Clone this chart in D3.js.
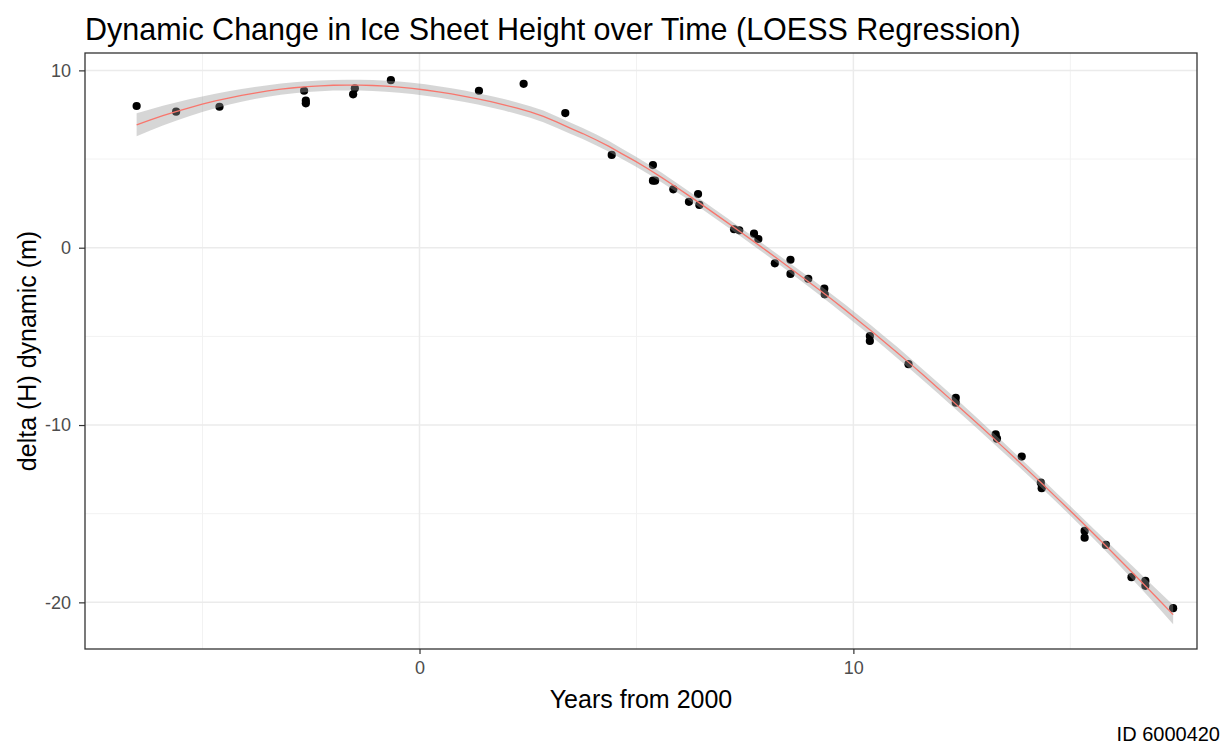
<!DOCTYPE html>
<html>
<head>
<meta charset="utf-8">
<script src="https://cdn.jsdelivr.net/npm/d3@7"></script>
<style>
  body { margin: 0; background: #fff; }
  svg { display: block; font-family: "Liberation Sans", Arial, sans-serif; }
</style>
</head>
<body>
<div id="chart"></div>
<script>
// values
const years = [-6.52, -5.61, -4.61, -2.66, -2.62, -2.62, -1.53, -1.49, -0.66, 1.37,
  2.40, 3.36, 4.43, 5.38, 5.38, 5.43, 5.85, 6.21, 6.42, 6.45,
  7.25, 7.37, 7.71, 7.81, 8.19, 8.55, 8.55, 8.96, 9.33, 9.34,
  10.38, 10.38, 11.27, 12.36, 12.36, 13.28, 13.31, 13.88, 14.32, 14.34,
  15.33, 15.33, 15.82, 16.41, 16.73, 16.73, 17.37];
const heights = [7.99, 7.67, 7.95, 8.85, 8.29, 8.14, 8.65, 8.99, 9.45, 8.85,
  9.24, 7.59, 5.23, 4.66, 3.78, 3.78, 3.29, 2.59, 3.03, 2.41,
  1.04, 0.98, 0.79, 0.49, -0.88, -0.68, -1.48, -1.75, -2.31, -2.63,
  -4.98, -5.26, -6.57, -8.46, -8.74, -10.52, -10.77, -11.78, -13.25, -13.56,
  -15.97, -16.35, -16.76, -18.58, -18.79, -19.07, -20.33];
const xTicks = [0, 10];
const xMinor = [-5, 5, 15];
const yTicks = [10, 0, -10, -20];
const yMinor = [5, -5, -15];

const W = 1225, H = 746;
const margin = {top: 53, right: 28, bottom: 97, left: 85};
const iw = W - margin.left - margin.right;
const ih = H - margin.top - margin.bottom;

const svg = d3.select("#chart").append("svg")
  .attr("width", W).attr("height", H);

const x = d3.scaleLinear().domain([-7.71, 17.92]).range([0, iw]);
const y = d3.scaleLinear().domain([-22.63, 10.98]).range([ih, 0]);

// loess (degree 2, span 0.75) with standard errors
function loess(xs, ys, span) {
  const n = xs.length;
  const q = Math.floor(n * span);
  function weightsAt(x0) {
    const d = xs.map(v => Math.abs(v - x0));
    const h = d.slice().sort((a, b) => a - b)[q - 1];
    const w = d.map(v => v < h ? Math.pow(1 - Math.pow(v / h, 3), 3) : 0);
    // X^T W X
    const S = [[0,0,0],[0,0,0],[0,0,0]];
    for (let i = 0; i < n; i++) {
      const r = [1, xs[i] - x0, (xs[i] - x0) ** 2];
      for (let a = 0; a < 3; a++) for (let b = 0; b < 3; b++) S[a][b] += w[i] * r[a] * r[b];
    }
    const inv = invert3(S);
    return xs.map((v, i) => {
      const r = [1, v - x0, (v - x0) ** 2];
      return w[i] * (inv[0][0] * r[0] + inv[0][1] * r[1] + inv[0][2] * r[2]);
    });
  }
  // residual scale
  let rss = 0, tr = 0, trLL = 0;
  xs.forEach((x0, k) => {
    const l = weightsAt(x0);
    const f = d3.sum(l, (li, i) => li * ys[i]);
    rss += (ys[k] - f) ** 2;
    tr += l[k];
    trLL += d3.sum(l, li => li * li);
  });
  const delta1 = n - 2 * tr + trLL;
  const sigma = Math.sqrt(rss / delta1);
  const tq = 2.02;
  const [lo, hi] = d3.extent(xs);
  return d3.range(80).map(j => {
    const x0 = lo + (hi - lo) * j / 79;
    const l = weightsAt(x0);
    const f = d3.sum(l, (li, i) => li * ys[i]);
    const se = sigma * Math.sqrt(d3.sum(l, li => li * li));
    return {x: x0, y: f, lo: f - tq * se, hi: f + tq * se};
  });
}

function invert3(m) {
  const [a, b, c] = m[0], [d, e, f] = m[1], [g, h, i] = m[2];
  const A = e * i - f * h, B = -(d * i - f * g), C = d * h - e * g;
  const det = a * A + b * B + c * C;
  return [
    [A / det, -(b * i - c * h) / det, (b * f - c * e) / det],
    [B / det, (a * i - c * g) / det, -(a * f - c * d) / det],
    [C / det, -(a * h - b * g) / det, (a * e - b * d) / det]
  ];
}

const fit = loess(years, heights, 0.75);

const g = svg.append("g").attr("transform", `translate(${margin.left},${margin.top})`);

// grid
g.selectAll("line.minx").data(xMinor).join("line")
  .attr("x1", d => x(d)).attr("x2", d => x(d)).attr("y1", 0).attr("y2", ih)
  .attr("stroke", "#f2f2f2").attr("stroke-width", 1);
g.selectAll("line.miny").data(yMinor).join("line")
  .attr("y1", d => y(d)).attr("y2", d => y(d)).attr("x1", 0).attr("x2", iw)
  .attr("stroke", "#f2f2f2").attr("stroke-width", 1);
g.selectAll("line.majx").data(xTicks).join("line")
  .attr("x1", d => x(d)).attr("x2", d => x(d)).attr("y1", 0).attr("y2", ih)
  .attr("stroke", "#ebebeb").attr("stroke-width", 1.5);
g.selectAll("line.majy").data(yTicks).join("line")
  .attr("y1", d => y(d)).attr("y2", d => y(d)).attr("x1", 0).attr("x2", iw)
  .attr("stroke", "#ebebeb").attr("stroke-width", 1.5);

// points
g.selectAll("circle.pt").data(years).join("circle")
  .attr("cx", d => x(d)).attr("cy", (d, i) => y(heights[i]))
  .attr("r", 4.1).attr("fill", "#000");

// confidence band
g.append("path").datum(fit)
  .attr("d", d3.area().x(d => x(d.x)).y0(d => y(d.lo)).y1(d => y(d.hi)))
  .attr("fill", "#999999").attr("fill-opacity", 0.4);

// fitted line
g.append("path").datum(fit)
  .attr("d", d3.line().x(d => x(d.x)).y(d => y(d.y)))
  .attr("fill", "none").attr("stroke", "#f8766d").attr("stroke-width", 1.3);

// border
g.append("rect").attr("width", iw).attr("height", ih)
  .attr("fill", "none").attr("stroke", "#333333").attr("stroke-width", 1.3);

// axes
const xAxis = g.append("g").attr("transform", `translate(0,${ih})`)
  .call(d3.axisBottom(x).tickValues(xTicks).tickSize(5).tickPadding(7).tickFormat(d => String(d)));
const yAxis = g.append("g")
  .call(d3.axisLeft(y).tickValues(yTicks).tickSize(6).tickPadding(8).tickFormat(d => String(d)));
[xAxis, yAxis].forEach(a => {
  a.select(".domain").remove();
  a.selectAll(".tick line").attr("stroke", "#333333").attr("stroke-width", 1.2);
  a.selectAll(".tick text").attr("fill", "#4d4d4d")
    .style("font-size", "18px").style("font-family", "'Liberation Sans', Arial, sans-serif");
});

// titles
svg.append("text").attr("x", margin.left).attr("y", 40)
  .attr("font-size", 30.5).attr("fill", "#000")
  .text("Dynamic Change in Ice Sheet Height over Time (LOESS Regression)");
svg.append("text").attr("x", margin.left + iw / 2).attr("y", 708)
  .attr("text-anchor", "middle").attr("font-size", 25).attr("fill", "#000")
  .text("Years from 2000");
svg.append("text")
  .attr("transform", `translate(36,${margin.top + ih / 2}) rotate(-90)`)
  .attr("text-anchor", "middle").attr("font-size", 25).attr("fill", "#000")
  .text("delta (H) dynamic (m)");
svg.append("text").attr("x", 1220).attr("y", 741)
  .attr("text-anchor", "end").attr("font-size", 20).attr("fill", "#000")
  .text("ID 6000420");
</script>
</body>
</html>
